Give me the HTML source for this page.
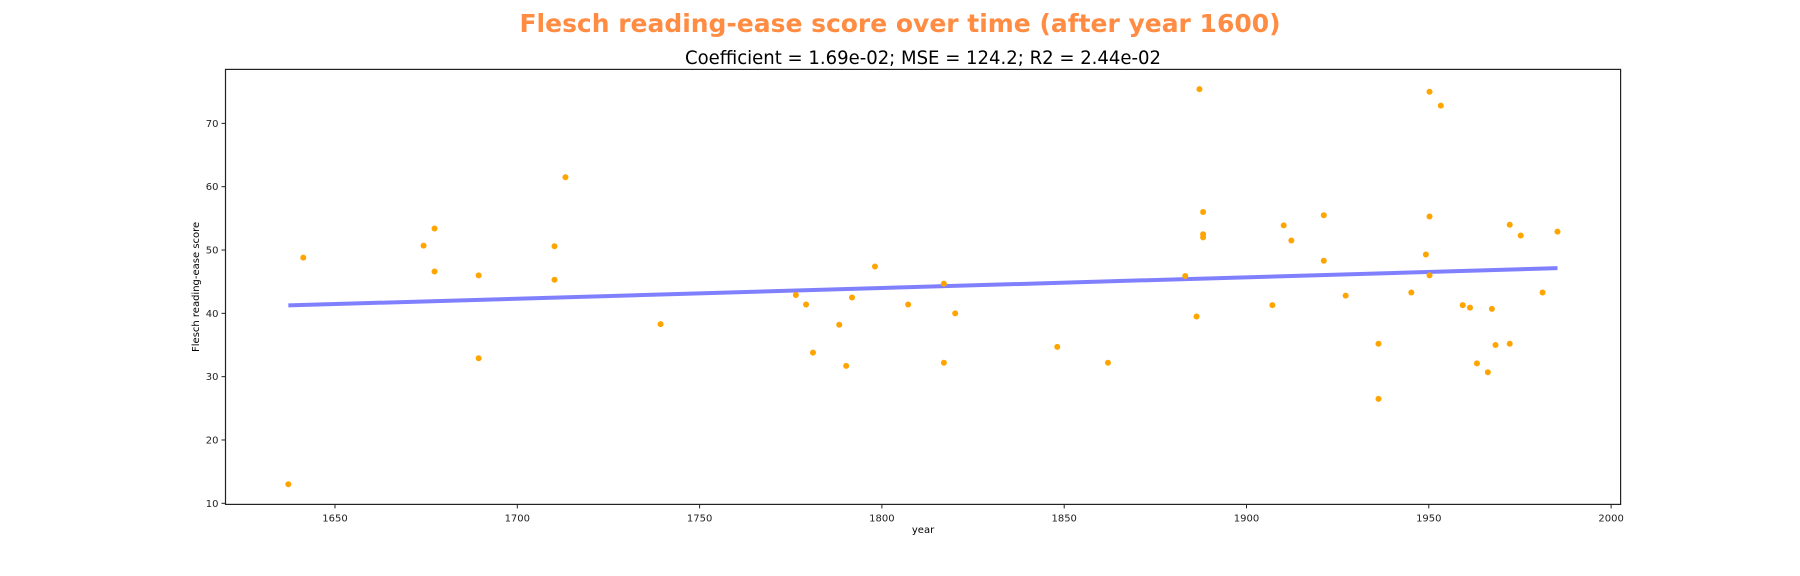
<!DOCTYPE html>
<html><head><meta charset="utf-8"><style>
html,body{margin:0;padding:0;background:#fff;}
svg{display:block;font-family:"DejaVu Sans","Liberation Sans",sans-serif;}
</style></head><body>
<svg id="chart" width="1800" height="576" viewBox="0 0 1800 576" xmlns="http://www.w3.org/2000/svg">
<text x="900" y="32" text-anchor="middle" font-size="25" font-weight="bold" fill="#ff8c42" textLength="761" lengthAdjust="spacingAndGlyphs">Flesch reading-ease score over time (after year 1600)</text>
<text x="923" y="64" text-anchor="middle" font-size="19" fill="#000" textLength="476" lengthAdjust="spacingAndGlyphs">Coefficient = 1.69e-02; MSE = 124.2; R2 = 2.44e-02</text>
<g id="plot"></g>
</svg>
<script>
const years = [1637.2,1641.3,1674.3,1677.3,1677.3,1689.4,1689.4,1710.2,1710.2,1713.2,1739.3,1776.4,1779.2,1781.1,1788.3,1790.2,1791.8,1798.1,1807.2,1817.0,1817.0,1820.1,1848.1,1862.0,1887.1,1888.1,1888.1,1888.1,1883.2,1886.3,1907.1,1910.2,1912.3,1921.2,1921.2,1927.2,1936.2,1936.2,1945.2,1949.2,1950.2,1950.2,1950.2,1953.3,1959.3,1961.3,1963.2,1966.2,1967.3,1968.3,1972.2,1972.2,1975.2,1981.2,1985.3];
const scores = [13.0,48.8,50.7,53.4,46.6,46.0,32.9,50.6,45.3,61.5,38.3,42.9,41.4,33.8,38.2,31.7,42.5,47.4,41.4,44.7,32.2,40.0,34.7,32.2,75.4,56.0,52.5,52.0,45.9,39.5,41.3,53.9,51.5,55.5,48.3,42.8,35.2,26.5,43.3,49.3,75.0,55.3,46.0,72.8,41.3,40.9,32.1,30.7,40.7,35.0,54.0,35.2,52.3,43.3,52.9];
const coefficient = [0.0169];
const lineStart = [41.25];
const xTicks = [1650,1700,1750,1800,1850,1900,1950,2000];
const yTicks = [10,20,30,40,50,60,70];

const NS = "http://www.w3.org/2000/svg";
const g = document.getElementById('plot');
const L=225.5, R=1620.6, T=69.4, B=504.4;
function xs(yr){return 335 + (yr-1650)*3.646;}
function ys(v){return 503.3 - (v-10)*6.332;}
function mk(tag, attrs){const e=document.createElementNS(NS,tag);for(const k in attrs)e.setAttribute(k,attrs[k]);g.appendChild(e);return e;}

// regression line
const minY = Math.min(...years), maxY = Math.max(...years);
const icpt = lineStart[0] - coefficient[0]*minY;
const rl = mk('line',{x1:xs(minY),y1:ys(icpt+coefficient[0]*minY),x2:xs(maxY),y2:ys(icpt+coefficient[0]*maxY),stroke:'#8080ff','stroke-width':4});



// points
years.forEach((yr,i)=>{
  const c = mk('circle',{cx:xs(yr),cy:ys(scores[i]),r:3,fill:'#ffa500'});
  
  
});

// frame
const fr = mk('rect',{x:L,y:T,width:R-L,height:B-T,fill:'none',stroke:'#222','stroke-width':1.2});



xTicks.forEach(t=>{
  const x=xs(t);
  const tl = mk('line',{x1:x,y1:B,x2:x,y2:B+4,stroke:'#222','stroke-width':1});
  
  
  const tx = mk('text',{x:x,y:B+17,'text-anchor':'middle','font-size':10,fill:'#222'});
  tx.textContent=t;
  
  
});
yTicks.forEach(t=>{
  const y=ys(t);
  const tl = mk('line',{x1:L-4,y1:y,x2:L,y2:y,stroke:'#222','stroke-width':1});
  
  
  const tx = mk('text',{x:L-7,y:y+3.5,'text-anchor':'end','font-size':10,fill:'#222'});
  tx.textContent=t;
  
  
});
const xl = mk('text',{x:(L+R)/2,y:533,'text-anchor':'middle','font-size':10,fill:'#000'});
xl.textContent='year';


const yl = mk('text',{x:0,y:0,'text-anchor':'middle','font-size':10,fill:'#000',transform:'translate(199,'+((T+B)/2)+') rotate(-90)'});
yl.textContent='Flesch reading-ease score';


</script>
</body></html>
